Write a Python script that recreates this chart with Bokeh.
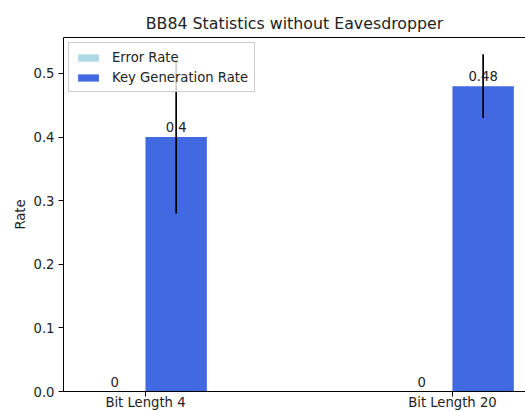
from bokeh.plotting import figure
from bokeh.models import ColumnDataSource, FixedTicker, LinearAxis, Range1d, Legend, LegendItem, NumeralTickFormatter
from bokeh.embed import file_html
from bokeh.resources import INLINE
from bokeh.core.properties import value

categories = ["Bit Length 4", "Bit Length 20"]
error_rate = [0.0, 0.0]
error_std = [0.0, 0.0]
key_rate = [0.4, 0.48]
key_std = [0.12, 0.05]
y_ticks = [0.0, 0.1, 0.2, 0.3, 0.4, 0.5]

FONT = "DejaVu Sans"
FS = "13.2px"
width = 0.2
xs = list(range(len(categories)))

err_src = ColumnDataSource(dict(
    x=[x - width / 2 for x in xs], top=error_rate,
    lo=[v - s for v, s in zip(error_rate, error_std)],
    hi=[v + s for v, s in zip(error_rate, error_std)],
    label=[f"{v:g}" for v in error_rate],
))
key_src = ColumnDataSource(dict(
    x=[x + width / 2 for x in xs], top=key_rate,
    lo=[v - s for v, s in zip(key_rate, key_std)],
    hi=[v + s for v, s in zip(key_rate, key_std)],
    label=[f"{v:g}" for v in key_rate],
))

ymax = max(max(key_src.data["hi"]), max(err_src.data["hi"])) * 1.05

p = figure(width=525, height=412, output_backend="svg", toolbar_location=None,
           x_range=Range1d(-0.267, 1.238), y_range=Range1d(0, ymax),
           min_border_left=63, min_border_right=0, min_border_top=37, min_border_bottom=21,
           title="BB84 Statistics without Eavesdropper")
p.title.text_font = FONT
p.title.text_font_size = "15.8px"
p.title.text_font_style = "normal"
p.title.align = "center"
p.title.text_color = "#222222"

p.xgrid.visible = False
p.ygrid.visible = False
p.outline_line_color = None
p.background_fill_color = "white"
p.border_fill_color = "white"

r_err = p.vbar(x="x", top="top", bottom=0, width=width, source=err_src,
               fill_color="#add8e6", line_color=None)
r_key = p.vbar(x="x", top="top", bottom=0, width=width, source=key_src,
               fill_color="#4169e1", line_color=None)
p.segment(x0="x", y0="lo", x1="x", y1="hi", source=key_src, line_color="black", line_width=1.7)
p.segment(x0="x", y0="lo", x1="x", y1="hi", source=err_src, line_color="black", line_width=1.7)

for src in (err_src, key_src):
    p.text(x="x", y="top", text="label", source=src, text_align="center",
           text_baseline="bottom", y_offset=-5, text_font=value(FONT),
           text_font_size=FS, text_color="#222222")

for ax in (p.xaxis[0], p.yaxis[0]):
    ax.major_label_text_font = FONT
    ax.major_label_text_font_size = FS
    ax.major_label_text_color = "#222222"
    ax.axis_line_color = "black"
    ax.major_tick_line_color = "black"
    ax.major_tick_out = 5
    ax.major_tick_in = 0
    ax.minor_tick_line_color = None
    ax.axis_label_text_font = FONT
    ax.axis_label_text_font_size = FS
    ax.axis_label_text_font_style = "normal"
    ax.axis_label_text_color = "#222222"

p.xaxis.ticker = FixedTicker(ticks=xs)
p.xaxis.major_label_overrides = {i: c for i, c in enumerate(categories)}
p.xaxis.major_label_standoff = -2
p.yaxis.ticker = FixedTicker(ticks=y_ticks)
p.yaxis.formatter = NumeralTickFormatter(format="0.0")
p.yaxis.axis_label = "Rate"
p.yaxis.major_label_standoff = 4
p.yaxis.axis_label_standoff = 3

top_axis = LinearAxis(ticker=FixedTicker(ticks=[]), axis_line_color="black",
                      major_tick_line_color=None, minor_tick_line_color=None,
                      major_label_text_font_size="0px")
p.add_layout(top_axis, "above")

legend = Legend(items=[LegendItem(label="Error Rate", renderers=[r_err]),
                       LegendItem(label="Key Generation Rate", renderers=[r_key])],
                location="top_left")
legend.label_text_font = FONT
legend.label_text_font_size = FS
legend.label_text_color = "#222222"
legend.border_line_color = "#cccccc"
legend.border_line_alpha = 1
legend.background_fill_alpha = 0.8
legend.margin = 5
legend.padding = 6
legend.spacing = 4
legend.glyph_width = 26
legend.glyph_height = 9
legend.label_standoff = 11
legend.label_height = 16
p.add_layout(legend)

open("out.html", "w").write(file_html(p, INLINE))
